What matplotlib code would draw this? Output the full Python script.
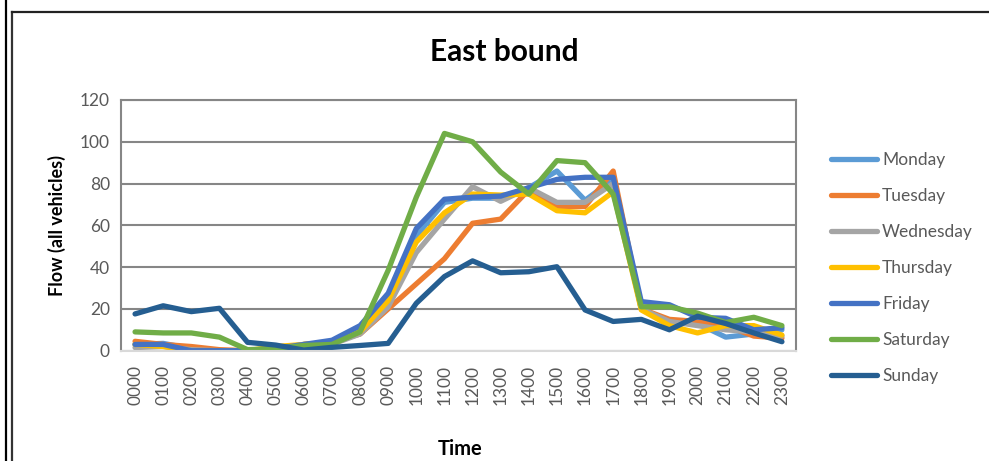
import matplotlib
matplotlib.use("Agg")
import matplotlib.pyplot as plt
from matplotlib.lines import Line2D

# Data (vehicles per hour, east bound)
times = ["0000", "0100", "0200", "0300", "0400", "0500", "0600", "0700",
         "0800", "0900", "1000", "1100", "1200", "1300", "1400", "1500",
         "1600", "1700", "1800", "1900", "2000", "2100", "2200", "2300"]

monday = [3, 3.5, 1, 0, 0, 1, 3, 4, 10, 26, 55, 71, 73, 73, 78, 86, 72, 82, 20, 14, 13, 6.5, 8, 10]
tuesday = [4.5, 3, 2, 0.5, 0, 0, 3, 4, 8, 20, 32, 44, 61, 63, 77, 69, 69, 86, 20, 15, 14, 12, 7, 6]
wednesday = [1.5, 2, 0.5, 0, 0, 1, 2, 3, 8, 21, 47, 63, 78.5, 71.5, 78, 71, 71, 80, 20, 14, 12, 10, 9, 7]
thursday = [3, 2, 0, 0, 0, 2, 3, 4, 9, 24, 52, 66, 75, 74.5, 75, 67, 66, 76, 19.5, 12, 8.5, 12, 12, 7.5]
friday = [3, 3, 0, 0, 0, 1, 3, 5, 12, 27.5, 58.5, 72.5, 73.5, 74, 78, 82, 83, 83, 23.5, 22, 16, 15.5, 10, 11]
saturday = [9, 8.5, 8.5, 6.5, 0.5, 1, 2.5, 3, 9, 38.5, 73.5, 104, 100, 85.5, 75, 91, 90, 75, 21, 21, 18, 13.5, 16, 12]
sunday = [17.6, 21.5, 18.7, 20.3, 4, 2.7, 0.3, 1.6, 2.5, 3.5, 22.7, 35.5, 43, 37.3, 37.8, 40.2, 19.5, 14, 15, 10, 16.5, 13, 8.5, 4.3]

days = ["Monday", "Tuesday", "Wednesday", "Thursday", "Friday", "Saturday", "Sunday"]
series = [monday, tuesday, wednesday, thursday, friday, saturday, sunday]
colors = ["#5B9BD5", "#ED7D31", "#A5A5A5", "#FFC000", "#4472C4", "#70AD47", "#255E91"]

plt.rcParams["font.family"] = ["Lato", "DejaVu Sans"]

W, H = 989, 461
fig = plt.figure(figsize=(W / 100, H / 100), dpi=100)
ax = fig.add_axes([121 / W, 1 - 350.7 / H, (796 - 121) / W, (350.7 - 100) / H])

x = list(range(len(times)))
for name, vals, col in zip(days, series, colors):
    ax.plot(x, vals, color=col, lw=3.8, label=name, solid_capstyle="round", solid_joinstyle="round")

ax.set_xlim(-0.5, len(times) - 0.5)
ax.set_ylim(0, 120)
ax.set_yticks(range(0, 121, 20))
ax.set_xticks(x)
ax.set_xticklabels(times, rotation=90)
ax.tick_params(axis="both", length=0, colors="#595959", labelsize=12.5)
ax.tick_params(axis="x", pad=10)
ax.tick_params(axis="y", pad=8)
ax.grid(axis="y", color="#868686", lw=1.5)
ax.set_axisbelow(True)
for side in ["left", "top", "right"]:
    ax.spines[side].set_color("#868686")
    ax.spines[side].set_linewidth(1.5)
ax.spines["bottom"].set_color("#D9D9D9")
ax.spines["bottom"].set_linewidth(1.5)

fig.text(504 / W, 1 - 52 / H, "East bound", ha="center", va="center", fontsize=21.5, fontweight="bold")
fig.text(57 / W, 1 - 226 / H, "Flow (all vehicles)", ha="center", va="center", rotation=90,
         fontsize=13, fontweight="bold")
fig.text(460 / W, 1 - 449 / H, "Time", ha="center", va="center", fontsize=14.5, fontweight="bold")

leg = fig.legend(loc="upper left", bbox_to_anchor=(824 / W, 1 - 145 / H), frameon=False,
                 fontsize=12.5, handlelength=2.65, handletextpad=0.3, labelspacing=1.15,
                 borderaxespad=0)
for t in leg.get_texts():
    t.set_color("#595959")

# outer frame lines of the pasted chart
fig.add_artist(Line2D([6 / W, 6 / W], [0, 1], color="black", lw=1.6))
fig.add_artist(Line2D([12 / W, 12 / W], [0, 1 - 12.5 / H], color="#333333", lw=1.6))
fig.add_artist(Line2D([12 / W, 1], [1 - 12.5 / H, 1 - 12.5 / H], color="#222222", lw=1.6))

fig.savefig("out.png", dpi=100)
